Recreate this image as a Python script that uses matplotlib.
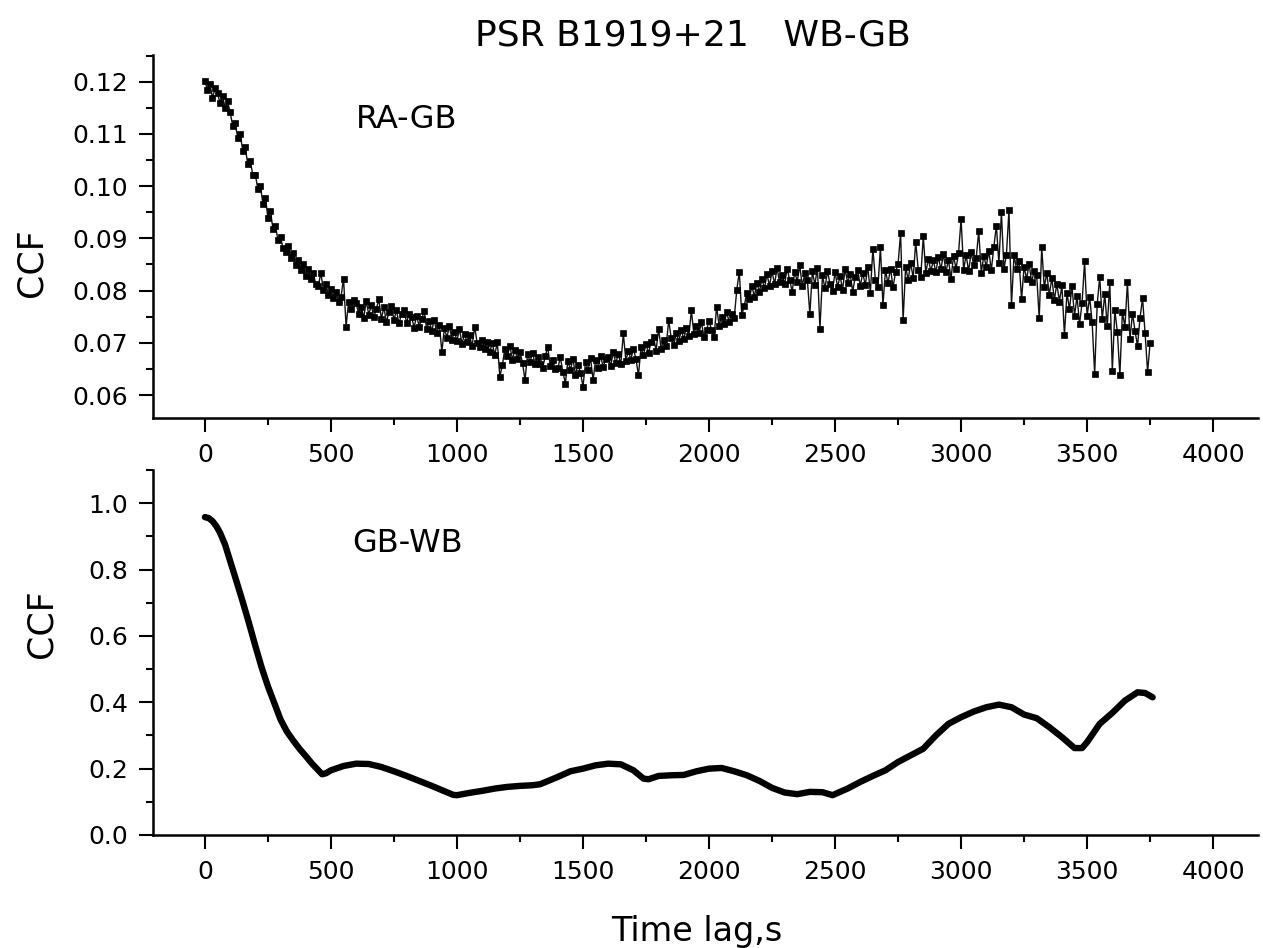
import numpy as np
import matplotlib
matplotlib.use("Agg")
import matplotlib.pyplot as plt
from matplotlib.ticker import MultipleLocator, FormatStrFormatter

plt.rcParams['font.family'] = ['DejaVu Sans']

# ---------------- data ----------------
# RA-GB cross-correlation, lag step 10 s (values x 1e-3), one row per 100 s
ra_gb_step = 10
ra_gb_ccf_milli = [
    120.1, 118.4, 119.5, 116.9, 118.7, 117.8, 115.9, 117.3, 115.0, 116.2,
    114.1, 111.6, 112.0, 109.3, 110.0, 106.8, 107.4, 104.2, 104.8, 102.1,
    102.2, 99.4, 100.1, 96.6, 97.8, 93.9, 95.2, 91.8, 92.3, 89.6,
    90.2, 88.1, 87.4, 88.6, 86.2, 87.1, 84.8, 85.9, 83.9, 85.0,
    82.7, 84.1, 82.2, 83.3, 81.2, 80.9, 83.4, 80.1, 81.3, 79.2,
    80.3, 78.6, 79.8, 77.9, 78.8, 82.3, 73.1, 77.9, 76.4, 78.1,
    77.6, 75.5, 76.9, 74.8, 78.0, 75.4, 77.2, 74.9, 76.5, 78.3,
    74.6, 76.8, 73.9, 75.9, 77.1, 74.4, 76.2, 73.7, 75.5, 76.3,
    73.8, 75.6, 74.9, 72.9, 75.2, 73.1, 74.6, 76.0, 72.6, 74.2,
    72.3, 74.4, 71.9, 73.5, 68.3, 72.8, 71.0, 73.2, 70.6, 72.1,
    70.4, 72.6, 69.8, 71.7, 70.1, 71.5, 69.3, 73.1, 70.0, 69.2,
    70.6, 68.9, 70.2, 68.3, 69.9, 67.7, 70.1, 63.5, 65.7, 68.9,
    67.5, 69.4, 66.8, 68.6, 66.9, 68.3, 66.1, 62.9, 67.8, 66.4,
    68.1, 65.9, 67.3, 66.0, 65.2, 67.4, 69.2, 65.6, 66.8, 64.9,
    65.1, 67.2, 64.5, 62.2, 66.6, 64.8, 66.9, 63.9, 65.8, 64.3,
    61.6, 66.3, 64.8, 67.0, 62.9, 66.7, 65.1, 67.5, 65.4, 66.9,
    67.3, 65.6, 68.2, 66.1, 67.8, 65.9, 71.8, 66.6, 68.4, 66.8,
    68.9, 66.9, 63.8, 69.1, 67.6, 69.8, 68.0, 70.2, 71.1, 68.5,
    72.7, 68.8, 70.6, 69.4, 74.3, 70.9, 69.6, 71.8, 70.3, 72.4,
    70.7, 72.9, 71.3, 76.2, 71.6, 73.3, 71.8, 73.9, 71.1, 72.4,
    74.2, 72.5, 71.1, 76.9, 73.3, 75.0, 73.6, 75.8, 74.0, 75.6,
    74.8, 80.1, 83.6, 75.3, 77.1, 79.6, 78.3, 80.9, 78.8, 81.5,
    79.7, 82.3, 80.4, 83.1, 80.9, 83.7, 81.2, 84.3, 81.6, 83.0,
    81.3, 84.2, 82.0, 79.8, 83.6, 81.7, 84.8, 80.9, 83.3, 82.1,
    75.5, 83.7, 81.1, 84.4, 72.6, 82.9, 80.4, 83.8, 81.2, 79.9,
    83.6, 80.7, 82.8, 80.2, 84.1, 81.5, 83.2, 79.8, 82.6, 84.0,
    80.8, 83.4, 81.0, 84.6, 79.5, 88.0, 82.1, 80.6, 88.3, 77.2,
    83.9, 81.4, 84.2, 80.7, 83.5, 85.1, 91.0, 74.3, 84.6, 82.0,
    85.3, 82.4, 89.3, 84.0, 82.6, 90.4, 83.3, 86.1, 83.7, 85.8,
    83.5, 86.4, 84.1, 87.0, 83.6, 85.9, 82.3, 86.6, 84.2, 87.2,
    93.7, 84.0, 86.8, 83.7, 87.3, 84.9, 86.2, 91.4, 83.4, 86.6,
    84.6, 87.6, 83.9, 88.4, 92.4, 85.2, 95.0, 84.1, 86.9, 95.4,
    77.2, 86.8, 84.1, 85.7, 78.3, 84.6, 82.2, 85.1, 81.6, 83.8,
    82.9, 74.7, 88.3, 80.6, 83.4, 79.1, 82.5, 78.2, 81.3, 77.9,
    81.0, 71.5, 79.6, 76.4, 80.8, 75.2, 78.9, 73.6, 77.6, 85.6,
    75.1, 78.8, 73.9, 64.0, 77.4, 82.6, 74.5, 79.3, 73.2, 81.6,
    64.6, 76.2, 72.1, 63.8, 75.9, 73.0, 81.6, 70.7, 75.6, 72.3,
    69.4, 74.8, 78.5, 71.9, 64.4, 70.0,
]

# GB-WB cross-correlation (smooth curve)
gb_wb_lag = [
    0, 15, 30, 45, 60, 80, 100, 125, 150, 175, 200, 225, 250, 275, 300,
    325, 350, 375, 400, 425, 450, 465, 480, 500, 550, 600, 650, 700, 750,
    800, 850, 900, 950, 985, 1000, 1050, 1100, 1150, 1200, 1250, 1300,
    1330, 1400, 1450, 1500, 1550, 1600, 1650, 1700, 1740, 1760, 1800, 1850,
    1900, 1950, 2000, 2050, 2100, 2150, 2200, 2250, 2300, 2350, 2400, 2450,
    2490, 2550, 2600, 2650, 2700, 2750, 2800, 2850, 2900, 2950, 3000, 3050,
    3100, 3150, 3200, 3250, 3300, 3350, 3400, 3450, 3480, 3500, 3550, 3600,
    3650, 3700, 3730, 3760,
]
gb_wb_ccf = [
    0.958, 0.955, 0.946, 0.931, 0.911, 0.875, 0.826, 0.765, 0.703, 0.638,
    0.570, 0.505, 0.448, 0.398, 0.348, 0.312, 0.285, 0.260, 0.238, 0.215,
    0.195, 0.183, 0.186, 0.195, 0.208, 0.215, 0.214, 0.205, 0.192, 0.178,
    0.163, 0.148, 0.132, 0.121, 0.120, 0.127, 0.133, 0.140, 0.145, 0.148,
    0.150, 0.153, 0.175, 0.192, 0.200, 0.210, 0.215, 0.213, 0.195, 0.170,
    0.168, 0.178, 0.180, 0.181, 0.192, 0.200, 0.202, 0.192, 0.180, 0.163,
    0.142, 0.128, 0.123, 0.130, 0.129, 0.120, 0.140, 0.160, 0.178, 0.195,
    0.220, 0.240, 0.260, 0.300, 0.335, 0.355, 0.372, 0.385, 0.393, 0.385,
    0.363, 0.352, 0.325, 0.295, 0.262, 0.262, 0.280, 0.335, 0.368, 0.405,
    0.430, 0.428, 0.415,
]

title_text = "PSR B1919+21   WB-GB"
xlabel_text = "Time lag,s"
ylabel_text = "CCF"
top_label = "RA-GB"
bottom_label = "GB-WB"

# ---------------- figure ----------------
W, H = 1263, 948
fig = plt.figure(figsize=(W / 100, H / 100), dpi=100)

def fx(px):
    return px / W

def fy(py):
    return 1 - py / H

ax1 = fig.add_axes([fx(153), fy(418), fx(1258) - fx(153), fy(55) - fy(418)])
ax2 = fig.add_axes([fx(153), fy(835), fx(1258) - fx(153), fy(470) - fy(835)])

lag_ra = np.arange(len(ra_gb_ccf_milli)) * ra_gb_step
ccf_ra = np.array(ra_gb_ccf_milli) / 1000.0

ax1.plot(lag_ra, ccf_ra, color='#111111', lw=1.0, marker='s', ms=4.5,
         mec='black', mfc='black', mew=0.5)
ax2.plot(gb_wb_lag, gb_wb_ccf, color='black', lw=4.6,
         solid_capstyle='round', solid_joinstyle='round')

xlim = (-206, 4178)
ax1.set_xlim(*xlim)
ax2.set_xlim(*xlim)
ax1.set_ylim(0.0556, 0.1251)
ax2.set_ylim(0.0, 1.1)

for ax in (ax1, ax2):
    for s in ('top', 'right'):
        ax.spines[s].set_visible(False)
    for s in ('left', 'bottom'):
        ax.spines[s].set_linewidth(1.8)
    ax.xaxis.set_major_locator(MultipleLocator(500))
    ax.xaxis.set_minor_locator(MultipleLocator(250))
    ax.tick_params(which='major', direction='out', length=10, width=1.5,
                   labelsize=18, pad=8)
    ax.tick_params(which='minor', direction='out', length=5, width=1.5)

ax1.yaxis.set_major_locator(MultipleLocator(0.01))
ax1.yaxis.set_minor_locator(MultipleLocator(0.005))
ax1.yaxis.set_major_formatter(FormatStrFormatter('%.2f'))
ax2.yaxis.set_major_locator(MultipleLocator(0.2))
ax2.yaxis.set_minor_locator(MultipleLocator(0.1))
ax2.yaxis.set_major_formatter(FormatStrFormatter('%.1f'))

ax1.set_ylabel(ylabel_text, fontsize=25)
ax1.yaxis.set_label_coords((48 - 153) / 1105, 0.427)
ax2.set_ylabel(ylabel_text, fontsize=25)
ax2.yaxis.set_label_coords((58 - 153) / 1105, 0.58)

ax1.text(599, 0.1111, top_label, fontsize=23, ha='left', va='baseline')
ax2.text(583, 0.852, bottom_label, fontsize=23, ha='left', va='baseline')

fig.text(fx(693), fy(45), title_text, fontsize=26, ha='center', va='baseline')
fig.text(fx(697), fy(941), xlabel_text, fontsize=24, ha='center', va='baseline')

fig.savefig("out.png", dpi=100, facecolor='white')
